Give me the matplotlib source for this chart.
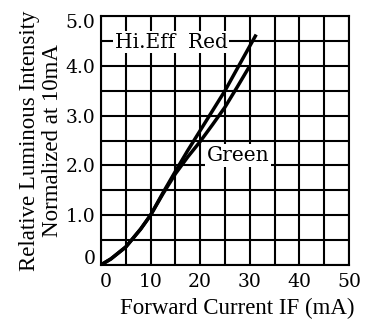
import numpy as np
import matplotlib
matplotlib.use('Agg')
import matplotlib.pyplot as plt
import matplotlib.transforms as mtransforms

# values
red_current = [0, 2, 5, 8, 10, 12.5, 15, 17.5, 20, 22.5, 25, 27.5, 31.3]
red_intensity = [0, 0.12, 0.36, 0.72, 1.0, 1.45, 1.88, 2.3, 2.7, 3.1, 3.5, 3.95, 4.63]
green_current = [0, 2, 5, 8, 10, 12.5, 15, 17.5, 20, 22.5, 25, 27.5, 30]
green_intensity = [0, 0.12, 0.36, 0.72, 1.0, 1.43, 1.83, 2.17, 2.48, 2.82, 3.17, 3.58, 4.0]
x_ticks = [0, 10, 20, 30, 40, 50]
y_ticks = [0, 1, 2, 3, 4, 5]
y_labels = ['0', '1.0', '2.0', '3.0', '4.0', '5.0']

plt.rcParams['font.family'] = ['DejaVu Serif']

fig = plt.figure(figsize=(3.7, 3.23), dpi=100)
ax = fig.add_axes([0.273, 0.180, 0.670, 0.770])

ax.plot(red_current, red_intensity, color='black', lw=2.5, solid_capstyle='butt', zorder=3)
ax.plot(green_current, green_intensity, color='black', lw=2.5, solid_capstyle='butt', zorder=3)

ax.set_xlim(0, 50)
ax.set_ylim(0, 5)
ax.set_xticks(x_ticks)
ax.set_xticks(np.arange(0, 51, 5), minor=True)
ax.set_yticks(y_ticks)
ax.set_yticklabels(y_labels)
ax.set_yticks(np.arange(0, 5.01, 0.5), minor=True)
ax.grid(True, which='both', color='black', lw=1.5)
ax.tick_params(which='both', length=0, labelsize=13.5)
ax.tick_params(axis='x', pad=6)
ax.tick_params(axis='y', pad=4)
for s in ax.spines.values():
    s.set_linewidth(1.5)

# end labels sit a bit inward in the reference
def nudge(label, dx, dy):
    label.set_transform(label.get_transform() +
                        mtransforms.ScaledTranslation(dx / 100, dy / 100, fig.dpi_scale_trans))

xt = ax.xaxis.get_major_ticks()
nudge(xt[0].label1, 5, 0)
yt = ax.yaxis.get_major_ticks()
nudge(yt[0].label1, 0, 8)
nudge(yt[-1].label1, 0, -5)

ax.text(2.8, 4.48, 'Hi.Eff  Red', fontsize=14.5, va='center', ha='left',
        bbox=dict(facecolor='white', edgecolor='none', pad=1), zorder=4)
ax.text(21.3, 2.2, 'Green', fontsize=14.5, va='center', ha='left',
        bbox=dict(facecolor='white', edgecolor='none', pad=1.5), zorder=4)

ax.set_xlabel('Forward Current IF (mA)', fontsize=16.5, labelpad=5,
              family=['Liberation Serif'])
ax.xaxis.label.set_x(0.548)
ax.set_ylabel('Relative Luminous Intensity\nNormalized at 10mA', fontsize=16.5, labelpad=2,
              linespacing=1.1, family=['Liberation Serif'])

fig.savefig('out.png', dpi=100)
